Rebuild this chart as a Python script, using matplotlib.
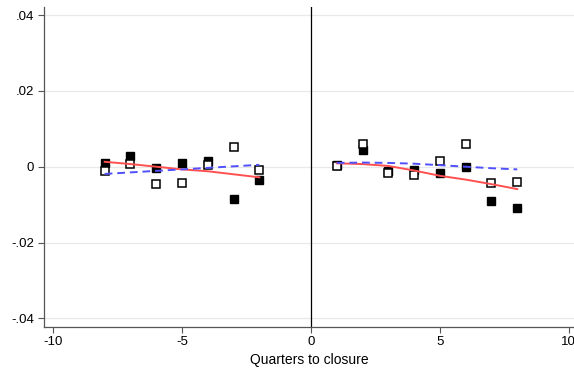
import matplotlib
matplotlib.use('Agg')
import matplotlib.pyplot as plt
import numpy as np

plt.rcParams['font.family'] = ['Liberation Sans', 'DejaVu Sans']

# quarters relative to closure
q_pre = [-8, -7, -6, -5, -4, -3, -2]
q_post = [1, 2, 3, 4, 5, 6, 7, 8]

# filled squares (treated) and hollow squares (control)
filled_pre = [0.0011, 0.0027, -0.0003, 0.0011, 0.0014, -0.0086, -0.0034]
hollow_pre = [-0.0012, 0.0007, -0.0046, -0.0043, 0.0005, 0.0051, -0.0008]
filled_post = [0.0004, 0.0045, -0.0011, -0.0009, -0.0016, -0.0002, -0.0090, -0.0108]
hollow_post = [0.0003, 0.0059, -0.0017, -0.0021, 0.0016, 0.0061, -0.0042, -0.0040]

# smoothed fits
red_pre = [0.0013, 0.0007, 0.0000, -0.0007, -0.0012, -0.0020, -0.0028]
blue_pre = [-0.0019, -0.0015, -0.0011, -0.0007, -0.0003, 0.0001, 0.0005]
red_post = [0.0009, 0.0007, 0.0002, -0.0010, -0.0024, -0.0034, -0.0046, -0.0059]
blue_post = [0.0010, 0.0011, 0.0010, 0.0008, 0.0004, 0.0000, -0.0004, -0.0007]

yticks = [-0.04, -0.02, 0, 0.02, 0.04]
ylabels = ['-.04', '-.02', '0', '.02', '.04']

fig = plt.figure(figsize=(5.74, 3.74), dpi=100)
ax = fig.add_axes([0.0767, 0.1265, 0.9233, 0.8555])

for q, f, h in [(q_pre, filled_pre, hollow_pre), (q_post, filled_post, hollow_post)]:
    ax.plot(q, f, 's', color='black', markersize=6, zorder=3)
    ax.plot(q, h, 's', markerfacecolor='white', markeredgecolor='black',
            markeredgewidth=1.1, markersize=6, zorder=3)

for q, r, b in [(q_pre, red_pre, blue_pre), (q_post, red_post, blue_post)]:
    ax.plot(q, r, '-', color='#ff5050', linewidth=1.4, zorder=4)
    ax.plot(q, b, '--', color='#5050ff', linewidth=1.4, dashes=(4, 2.5), zorder=4)

ax.axvline(0, color='black', linewidth=0.9, zorder=2)

ax.set_xlim(-10.35, 10.2)
ax.set_ylim(-0.0422, 0.0422)
ax.set_xticks([-10, -5, 0, 5, 10])
ax.set_xticklabels(['-10', '-5', '0', '5', '10'])
ax.set_yticks(yticks)
ax.set_yticklabels(ylabels)
ax.grid(axis='y', color='#e8e8e8', linewidth=0.9)
ax.set_axisbelow(True)

for s in ['top', 'right']:
    ax.spines[s].set_visible(False)
for s in ['left', 'bottom']:
    ax.spines[s].set_color('#555555')
    ax.spines[s].set_linewidth(0.9)
ax.tick_params(direction='out', length=4, width=0.8, color='#555555',
               labelsize=9.5, pad=3)
ax.set_xlabel('Quarters to closure', fontsize=10, labelpad=3)

fig.savefig('out.png', dpi=100)
